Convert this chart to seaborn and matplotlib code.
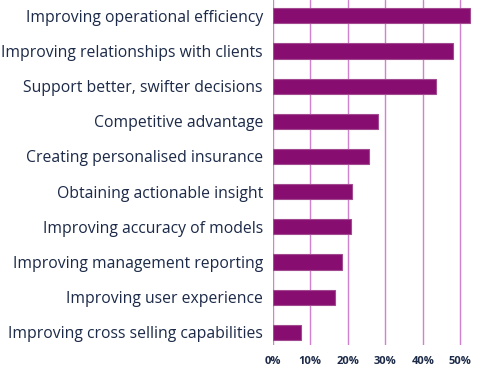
import matplotlib
matplotlib.use("Agg")
import matplotlib.pyplot as plt
import seaborn as sns
import pandas as pd
from matplotlib.ticker import FuncFormatter

categories = [
    "Improving operational efficiency",
    "Improving relationships with clients",
    "Support better, swifter decisions",
    "Competitive advantage",
    "Creating personalised insurance",
    "Obtaining actionable insight",
    "Improving accuracy of models",
    "Improving management reporting",
    "Improving user experience",
    "Improving cross selling capabilities",
]
values = [52.7, 48.0, 43.6, 28.2, 25.7, 21.1, 21.0, 18.4, 16.5, 7.5]
xticks = [0, 10, 20, 30, 40, 50]

df = pd.DataFrame({"category": categories, "value": values})

sns.set_theme(style="white")
plt.rcParams["font.family"] = ["Open Sans", "DejaVu Sans"]

fig = plt.figure(figsize=(4.88, 3.71), dpi=100)
ax = fig.add_axes([0.5588, 0.0701, 0.4342, 0.9299])

sns.barplot(data=df, x="value", y="category", orient="h", color="#870e70",
            saturation=1, width=0.43, edgecolor="#a14a8f", linewidth=0.8, ax=ax, zorder=3)

ax.set_xlim(0, 56.5)
ax.set_ylim(9.36, -0.45)
ax.set_xticks(xticks)
ax.xaxis.set_major_formatter(FuncFormatter(lambda v, p: f"{int(v)}%"))
ax.grid(axis="x", color="#c157bf", linewidth=1.0, alpha=0.75, zorder=0)
ax.grid(axis="y", visible=False)
for s in ax.spines.values():
    s.set_visible(False)
ax.set_xlabel("")
ax.set_ylabel("")
ax.tick_params(axis="both", length=0)
ax.tick_params(axis="y", pad=7, labelsize=11.3, labelcolor="#1c2a48")
ax.tick_params(axis="x", pad=8, labelsize=8, labelcolor="#1c2a48")
for t in ax.get_xticklabels():
    t.set_fontweight("bold")

fig.savefig("out.png", dpi=100)
